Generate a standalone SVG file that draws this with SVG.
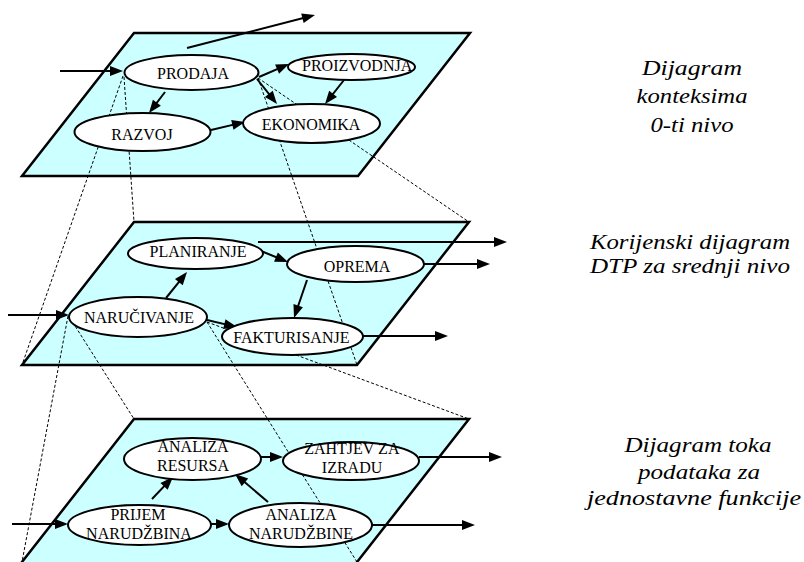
<svg xmlns="http://www.w3.org/2000/svg" xmlns:xlink="http://www.w3.org/1999/xlink" width="804" height="562" viewBox="0 0 804 562">
<defs>
<path id="head" d="M0,0 L-13,-5 L-13,5 z" fill="#000"/>
</defs>
<rect width="804" height="562" fill="#fff"/>
<g id="planes" fill="#ccffff" stroke="#000" stroke-width="2.5">
<polygon points="134,33 470,33 358,176 22,176"/>
<polygon points="134,222 469,222 357,365 22,365"/>
<polygon points="134,419 469,419 355.5,564 20.4,564"/>
</g>
<g id="projections" stroke="#000" stroke-width="1" stroke-dasharray="3,2" fill="none">
<line x1="123" y1="76" x2="22" y2="365"/>
<line x1="124" y1="77" x2="134" y2="222"/>
<line x1="258" y1="78" x2="357" y2="365"/>
<line x1="258" y1="78" x2="469" y2="222"/>
<line x1="68" y1="316" x2="22" y2="562"/>
<line x1="70" y1="318" x2="134" y2="419"/>
<line x1="207" y1="322" x2="357" y2="562"/>
<line x1="207" y1="322" x2="469" y2="419"/>
</g>
<g id="connectors">
<g stroke="#000" stroke-width="2" fill="none">
<line x1="60" y1="71" x2="119" y2="71"/>
<line x1="187" y1="48" x2="311.1" y2="16"/>
<line x1="259" y1="77" x2="285.3" y2="65.6"/>
<line x1="165" y1="92" x2="151.4" y2="109.8"/>
<line x1="257" y1="79" x2="274.5" y2="100.9"/>
<line x1="344" y1="80" x2="327.5" y2="100.9"/>
<line x1="211" y1="130" x2="241.1" y2="122.9"/>
<line x1="8" y1="315" x2="65" y2="315"/>
<line x1="258" y1="242" x2="503" y2="242"/>
<line x1="424" y1="264" x2="486" y2="264"/>
<line x1="363" y1="336" x2="444" y2="336"/>
<line x1="261" y1="251" x2="284.3" y2="260.5"/>
<line x1="166" y1="298" x2="184.5" y2="275.1"/>
<line x1="307" y1="280" x2="295.3" y2="314.2"/>
<line x1="207" y1="320" x2="233.1" y2="326.1"/>
<line x1="12" y1="524" x2="64" y2="524"/>
<line x1="211" y1="524" x2="225" y2="524"/>
<line x1="152" y1="499" x2="170.2" y2="479.9"/>
<line x1="268" y1="502" x2="238.1" y2="476.6"/>
<line x1="261" y1="457" x2="279" y2="457"/>
<line x1="419" y1="457" x2="498" y2="457"/>
<line x1="372" y1="525" x2="471" y2="525"/>
</g>
<g id="arrowheads">
<use xlink:href="#head" href="#head" transform="translate(123,71)"/>
<use xlink:href="#head" href="#head" transform="translate(315,15) rotate(-14.46)"/>
<use xlink:href="#head" href="#head" transform="translate(289,64) rotate(-23.4)"/>
<use xlink:href="#head" href="#head" transform="translate(149,113) rotate(127.3)"/>
<use xlink:href="#head" href="#head" transform="translate(277,104) rotate(51.3)"/>
<use xlink:href="#head" href="#head" transform="translate(325,104) rotate(128.4)"/>
<use xlink:href="#head" href="#head" transform="translate(245,122) rotate(-13.2)"/>
<use xlink:href="#head" href="#head" transform="translate(69,315)"/>
<use xlink:href="#head" href="#head" transform="translate(507,242)"/>
<use xlink:href="#head" href="#head" transform="translate(490,264)"/>
<use xlink:href="#head" href="#head" transform="translate(448,336)"/>
<use xlink:href="#head" href="#head" transform="translate(288,262) rotate(22.2)"/>
<use xlink:href="#head" href="#head" transform="translate(187,272) rotate(-51.1)"/>
<use xlink:href="#head" href="#head" transform="translate(294,318) rotate(108.9)"/>
<use xlink:href="#head" href="#head" transform="translate(237,327) rotate(13.1)"/>
<use xlink:href="#head" href="#head" transform="translate(68,524)"/>
<use xlink:href="#head" href="#head" transform="translate(229,524)"/>
<use xlink:href="#head" href="#head" transform="translate(173,477) rotate(-46.3)"/>
<use xlink:href="#head" href="#head" transform="translate(235,474) rotate(-139.7)"/>
<use xlink:href="#head" href="#head" transform="translate(283,457)"/>
<use xlink:href="#head" href="#head" transform="translate(502,457)"/>
<use xlink:href="#head" href="#head" transform="translate(475,525)"/>
</g>
</g>
<g id="prodaja"><ellipse cx="191.5" cy="72.5" rx="67" ry="17.5" fill="#fff" stroke="#000" stroke-width="2"/><text x="157" y="79" font-family="Liberation Serif" font-size="16">PRODAJA</text></g>
<g id="proizvodnja"><ellipse cx="351.5" cy="67" rx="63.5" ry="13" fill="#fff" stroke="#000" stroke-width="2"/><text x="302" y="71" font-family="Liberation Serif" font-size="16">PROIZVODNJA</text></g>
<g id="razvoj"><ellipse cx="142.5" cy="132" rx="68" ry="19" fill="#fff" stroke="#000" stroke-width="2"/><text x="111.3" y="140" font-family="Liberation Serif" font-size="16">RAZVOJ</text></g>
<g id="ekonomika"><ellipse cx="311.5" cy="123.5" rx="68.5" ry="19.5" fill="#fff" stroke="#000" stroke-width="2"/><text x="261.7" y="130" font-family="Liberation Serif" font-size="16">EKONOMIKA</text></g>
<g id="planiranje"><ellipse cx="195.5" cy="253.5" rx="67.5" ry="15.5" fill="#fff" stroke="#000" stroke-width="2"/><text x="149.6" y="257" font-family="Liberation Serif" font-size="16">PLANIRANJE</text></g>
<g id="oprema"><ellipse cx="355.5" cy="264" rx="68.5" ry="18" fill="#fff" stroke="#000" stroke-width="2"/><text x="323.7" y="272" font-family="Liberation Serif" font-size="16">OPREMA</text></g>
<g id="narucivanje"><ellipse cx="138" cy="317" rx="69" ry="20" fill="#fff" stroke="#000" stroke-width="2"/><text x="84" y="323" font-family="Liberation Serif" font-size="16">NARU&#268;IVANJE</text></g>
<g id="fakturisanje"><ellipse cx="292.5" cy="336.5" rx="70.5" ry="18.5" fill="#fff" stroke="#000" stroke-width="2"/><text x="233.3" y="343" font-family="Liberation Serif" font-size="16">FAKTURISANJE</text></g>
<g id="analiza-resursa"><ellipse cx="192.5" cy="459" rx="68.5" ry="21" fill="#fff" stroke="#000" stroke-width="2"/><text x="157.5" y="452" font-family="Liberation Serif" font-size="16">ANALIZA</text><text x="157" y="471" font-family="Liberation Serif" font-size="16">RESURSA</text></g>
<g id="zahtjev"><ellipse cx="351" cy="461" rx="68" ry="19" fill="#fff" stroke="#000" stroke-width="2"/><text x="304.2" y="454" font-family="Liberation Serif" font-size="16">ZAHTJEV ZA</text><text x="321.8" y="473" font-family="Liberation Serif" font-size="16">IZRADU</text></g>
<g id="prijem"><ellipse cx="139.5" cy="525" rx="71.5" ry="20" fill="#fff" stroke="#000" stroke-width="2"/><text x="110.4" y="520" font-family="Liberation Serif" font-size="16">PRIJEM</text><text x="86.1" y="539" font-family="Liberation Serif" font-size="16">NARUD&#381;BINA</text></g>
<g id="analiza-narudzbine"><ellipse cx="300.5" cy="525" rx="71.5" ry="22" fill="#fff" stroke="#000" stroke-width="2"/><text x="265.5" y="520" font-family="Liberation Serif" font-size="16">ANALIZA</text><text x="249" y="539" font-family="Liberation Serif" font-size="16">NARUD&#381;BINE</text></g>
<g id="labels">
<text x="642" y="75" font-family="Liberation Serif" font-style="italic" font-size="22" textLength="100" lengthAdjust="spacingAndGlyphs">Dijagram</text>
<text x="636.5" y="103" font-family="Liberation Serif" font-style="italic" font-size="22" textLength="111" lengthAdjust="spacingAndGlyphs">konteksima</text>
<text x="650.5" y="132" font-family="Liberation Serif" font-style="italic" font-size="22" textLength="83" lengthAdjust="spacingAndGlyphs">0-ti nivo</text>
<text x="590" y="249" font-family="Liberation Serif" font-style="italic" font-size="22" textLength="200" lengthAdjust="spacingAndGlyphs">Korijenski dijagram</text>
<text x="590" y="273" font-family="Liberation Serif" font-style="italic" font-size="22" textLength="200" lengthAdjust="spacingAndGlyphs">DTP za srednji nivo</text>
<text x="624.5" y="452" font-family="Liberation Serif" font-style="italic" font-size="22" textLength="147" lengthAdjust="spacingAndGlyphs">Dijagram toka</text>
<text x="638" y="479" font-family="Liberation Serif" font-style="italic" font-size="22" textLength="122" lengthAdjust="spacingAndGlyphs">podataka za</text>
<text x="587" y="505" font-family="Liberation Serif" font-style="italic" font-size="22" textLength="214" lengthAdjust="spacingAndGlyphs">jednostavne funkcije</text>
</g>
</svg>
